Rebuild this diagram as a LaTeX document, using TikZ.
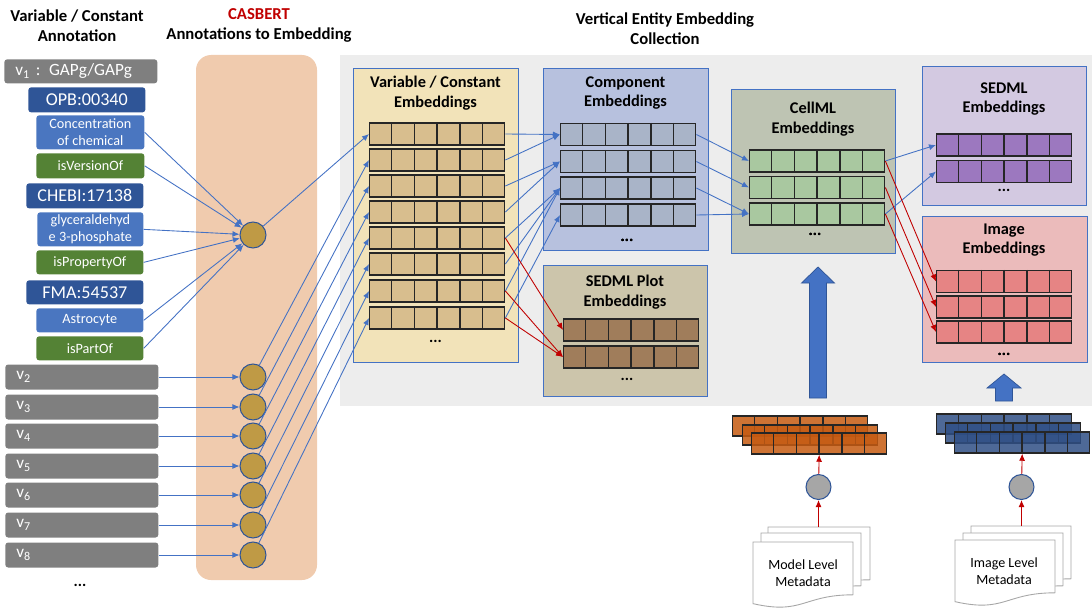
\documentclass[tikz,border=0pt]{standalone}
\usepackage{fontspec}
\setmainfont{Carlito}
\usetikzlibrary{positioning,arrows.meta,calc}

\definecolor{annGrey}{HTML}{7F7F7F}
\definecolor{annDark}{HTML}{2F5597}
\definecolor{annMid}{HTML}{4A76C0}
\definecolor{annGreen}{HTML}{548235}
\definecolor{peach}{HTML}{F0CBAE}
\definecolor{gold}{HTML}{BF9A45}
\definecolor{linkBlue}{HTML}{4472C4}
\definecolor{linkRed}{HTML}{C00000}
\definecolor{bgGrey}{HTML}{EDEDED}
\definecolor{vcPanel}{HTML}{F2E3B9}
\definecolor{vcCell}{HTML}{D8BE8E}
\definecolor{cpPanel}{HTML}{B7C1DE}
\definecolor{cpCell}{HTML}{A9B4C8}
\definecolor{plPanel}{HTML}{CCC5AB}
\definecolor{plCell}{HTML}{A07D5B}
\definecolor{clPanel}{HTML}{BEC4B3}
\definecolor{clCell}{HTML}{A9C8A0}
\definecolor{sdPanel}{HTML}{D3C9E1}
\definecolor{sdCell}{HTML}{9C78BF}
\definecolor{imPanel}{HTML}{EBBBBB}
\definecolor{imCell}{HTML}{E68484}
\definecolor{mdCell}{HTML}{C55A11}
\definecolor{isCell}{HTML}{2F4F85}

% one embedding vector: name, left x, centre y, options
\newcommand{\embrow}[4]{%
  \node[erow,anchor=west,#4] (#1) at (#2,#3) {};
  \foreach \k in {1,...,5}
    \draw[ecell] ($(#1.north west)!\k/6!(#1.north east)$) -- ($(#1.south west)!\k/6!(#1.south east)$);
}
% one page of a metadata stack: x, y, width, height
\newcommand{\docpage}[4]{%
  \filldraw[docline] (#1,#2) -- ({#1+#3},#2) -- ({#1+#3},{#2+0.8*#4})
    .. controls ({#1+0.5*#3},{#2+0.8*#4}) and ({#1+0.5*#3},{#2+1.107*#4}) .. (#1,{#2+0.934*#4}) -- cycle;
}

\begin{document}
\begin{tikzpicture}[
  x=0.02cm, y=-0.02cm,
  >={Latex[length=4pt,width=3.4pt]},
  every node/.style={font=\fontsize{8}{9.5}\selectfont},
  sz/.style 2 args={minimum width=#1*0.02cm, minimum height=#2*0.02cm},
  title/.style={font=\fontsize{9.5}{11.4}\selectfont\bfseries, align=center},
  ann/.style={anchor=north west, inner sep=0pt, rounded corners=1.6pt, text=white, align=center},
  idbox/.style={ann, fill=annDark, font=\fontsize{10.3}{11}\selectfont},
  txtbox/.style={ann, fill=annMid, font=\fontsize{8.1}{9.4}\selectfont},
  relbox/.style={ann, fill=annGreen, font=\fontsize{8.1}{9.4}\selectfont},
  vbox/.style={inner ysep=0pt, inner xsep=0.22cm, rounded corners=1.6pt, fill=annGrey, text=white,
    text width=2.62cm, align=left, minimum height=0.5cm, font=\fontsize{9.8}{11}\selectfont},
  gold/.style={circle, fill=gold, draw=annDark, line width=0.6pt, minimum size=0.52cm, inner sep=0pt},
  bl/.style={->, draw=linkBlue, line width=0.5pt},
  rd/.style={->, draw=linkRed, line width=0.5pt},
  panel/.style={anchor=north west, draw=linkBlue, line width=0.6pt, inner sep=0pt},
  ptitle/.style={title, font=\fontsize{9.3}{11.2}\selectfont\bfseries},
  erow/.style={draw=black!85, line width=0.8pt, minimum width=2.7cm, minimum height=0.44cm, inner sep=0pt},
  ecell/.style={draw=black!85, line width=0.8pt},
  dots/.style={font=\fontsize{9}{10}\selectfont\bfseries},
  docline/.style={fill=white, draw=black!35, line width=0.5pt},
  meta/.style={circle, fill=black!35, draw=annDark, line width=0.6pt, minimum size=0.5cm, inner sep=0pt},
  fat/.style={fill=linkBlue, draw=annDark, line width=0.4pt}
]
\useasboundingbox (0,0) rectangle (1092,608);

% backgrounds
\fill[bgGrey] (340,55) rectangle (1092,406);
\fill[peach, rounded corners=0.3cm] (196,55) rectangle (317,580);

% headings
\node[title] (hann) at (77,25.5) {Variable / Constant\\Annotation};
\node[title] (hcas) at (259,25.5) {\textcolor{linkRed}{CASBERT}\\Annotations to Embedding};
\node[title] (hvec) at (665,29) {Vertical Entity Embedding\\Collection};

% annotation of v1
\node[vbox, anchor=north west, inner ysep=0pt, minimum height=0.48cm] (v1) at (4,59) {v\textsubscript{1} : GAPg/GAPg};
\node[idbox, sz={117}{25}] (opb) at (28,87) {OPB:00340};
\node[txtbox, sz={108}{34}] (conc) at (36,115) {Concentration\\of chemical};
\node[relbox, sz={108}{25}] (ver) at (36,153) {isVersionOf};
\node[idbox, sz={117}{25}] (chebi) at (26,183) {CHEBI:17138};
\node[txtbox, sz={106}{34}] (glyc) at (37,212) {glyceraldehyd\\e 3-phosphate};
\node[relbox, sz={107}{24}] (prop) at (36,250) {isPropertyOf};
\node[idbox, sz={117}{24}] (fma) at (26,280) {FMA:54537};
\node[txtbox, sz={107}{24}] (astro) at (36,308) {Astrocyte};
\node[relbox, sz={107}{24}] (part) at (36,336) {isPartOf};

\node[gold] (c1) at (253,235) {};
\foreach \src in {conc,ver,glyc,prop,astro,part}
  \draw[bl] (\src.east) -- (c1);

% other variables
\foreach \i/\y in {2/377,3/407,4/436,5/466,6/495,7/525,8/555} {
  \node[vbox, anchor=west] (v\i) at (5,\y) {v\textsubscript{\i}};
  \node[gold] (c\i) at (253,\y) {};
  \draw[bl] (v\i.east) -- (c\i);
}
\node[dots] (vdots) at (80,585) {...};

% variable / constant embeddings
\node[panel, fill=vcPanel, sz={165}{294}] (pvc) at (353,68) {};
\node[ptitle] (tvc) at (435.5,93) {Variable / Constant\\Embeddings};
\foreach \i/\y in {1/134,2/160,3/186,4/212,5/238,6/264,7/291,8/318} {
  \embrow{vc\i}{369}{\y}{fill=vcCell}
  \draw[bl] (c\i) -- (vc\i.west);
}
\node[dots] (dvc) at (435.5,341) {...};

% component embeddings
\node[panel, fill=cpPanel, sz={165}{182}] (pcp) at (543,68) {};
\node[ptitle] (tcp) at (625.5,93) {Component\\Embeddings};
\foreach \i/\y in {1/134.5,2/161.5,3/188,4/215}
  \embrow{cp\i}{560}{\y}{fill=cpCell}
\node[dots] (dcp) at (627,240) {...};

% SEDML plot embeddings
\node[panel, fill=plPanel, sz={164}{131}] (ppl) at (543,265) {};
\node[ptitle] (tpl) at (625,292) {SEDML Plot\\Embeddings};
\embrow{pl1}{563}{330}{fill=plCell}
\embrow{pl2}{563}{357}{fill=plCell}
\node[dots] (dpl) at (627,379) {...};

% CellML embeddings
\node[panel, fill=clPanel, sz={164}{164}] (pcl) at (731,89) {};
\node[ptitle] (tcl) at (813,119) {CellML\\Embeddings};
\foreach \i/\y in {1/161,2/187.5,3/214}
  \embrow{cl\i}{749}{\y}{fill=clCell}
\node[dots] (dcl) at (815,234) {...};

% SEDML embeddings
\node[panel, fill=sdPanel, sz={164}{139}] (psd) at (922,66) {};
\node[ptitle] (tsd) at (1004,99) {SEDML\\Embeddings};
\embrow{sd1}{936}{145}{fill=sdCell}
\embrow{sd2}{936}{171.5}{fill=sdCell}
\node[dots] (dsd) at (1004,190) {...};

% image embeddings
\node[panel, fill=imPanel, sz={165}{146}] (pim) at (922,216) {};
\node[ptitle] (tim) at (1004,240) {Image\\Embeddings};
\foreach \i/\y in {1/281.5,2/307,3/332}
  \embrow{im\i}{936}{\y}{fill=imCell}
\node[dots] (dim) at (1004,354) {...};

% vertical collection
\draw[bl] (vc1.east) -- (cp1.west);
\draw[bl] (vc2.east) -- (cp1.west);
\draw[bl] (vc3.east) -- (cp2.west);
\draw[bl] (vc4.east) -- (cp2.west);
\foreach \i in {5,6,7}
  \draw[bl] (vc\i.east) -- (cp3.west);
\draw[bl] (vc8.east) -- (cp4.west);
\draw[rd] (vc5.east) -- (pl1.west);
\draw[rd] (vc7.east) -- (pl2.west);
\draw[rd] (vc8.east) -- (pl2.west);

\foreach \i/\j in {1/1,2/2,3/3,4/3}
  \draw[bl] (cp\i.east) -- (cl\j.west);
\draw[bl] (cl1.east) -- (sd1.west);
\draw[bl] (cl3.east) -- (sd2.west);
\foreach \i in {1,2,3}
  \draw[rd] (cl\i.east) -- (im\i.west);

% model level metadata
\draw[fat] (809.5,398) -- (809.5,283) -- (801.5,283) -- (818,267) -- (834.5,283)
  -- (826.5,283) -- (826.5,398) -- cycle;
\embrow{ms1}{732}{426}{fill=mdCell, fill opacity=0.85, minimum height=0.4cm}
\embrow{ms2}{742}{435}{fill=mdCell, fill opacity=0.85, minimum height=0.4cm}
\embrow{ms3}{751}{443.5}{fill=mdCell, fill opacity=0.85, minimum height=0.42cm}
\docpage{768}{527}{102}{66}
\docpage{761}{533}{100}{66}
\docpage{753}{542}{100}{66}
\coordinate (mdoc) at (818.5,527);
\node[align=center, font=\fontsize{8}{9.4}\selectfont] (mtxt) at (803,573) {Model Level\\Metadata};
\node[meta] (mc) at (818.5,487) {};
\draw[rd] (mdoc) -- (mc);
\draw[rd] (mc) -- (ms3.south);

% image level metadata
\draw[fat] (995.5,401) -- (995.5,388) -- (987,388) -- (1004,374) -- (1021,388)
  -- (1012.5,388) -- (1012.5,401) -- cycle;
\embrow{is1}{936}{424}{fill=isCell, fill opacity=0.85, minimum height=0.4cm}
\embrow{is2}{945}{433}{fill=isCell, fill opacity=0.85, minimum height=0.4cm}
\embrow{is3}{954}{442.5}{fill=isCell, fill opacity=0.85, minimum height=0.42cm}
\docpage{971}{526}{100}{66}
\docpage{963}{533}{100}{66}
\docpage{955}{540}{100}{66}
\coordinate (idoc) at (1021.5,526);
\node[align=center, font=\fontsize{8}{9.4}\selectfont] (itxt) at (1004,571) {Image Level\\Metadata};
\node[meta] (ic) at (1021.5,487) {};
\draw[rd] (idoc) -- (ic);
\draw[rd] (ic) -- (is3.south);
\end{tikzpicture}
\end{document}
